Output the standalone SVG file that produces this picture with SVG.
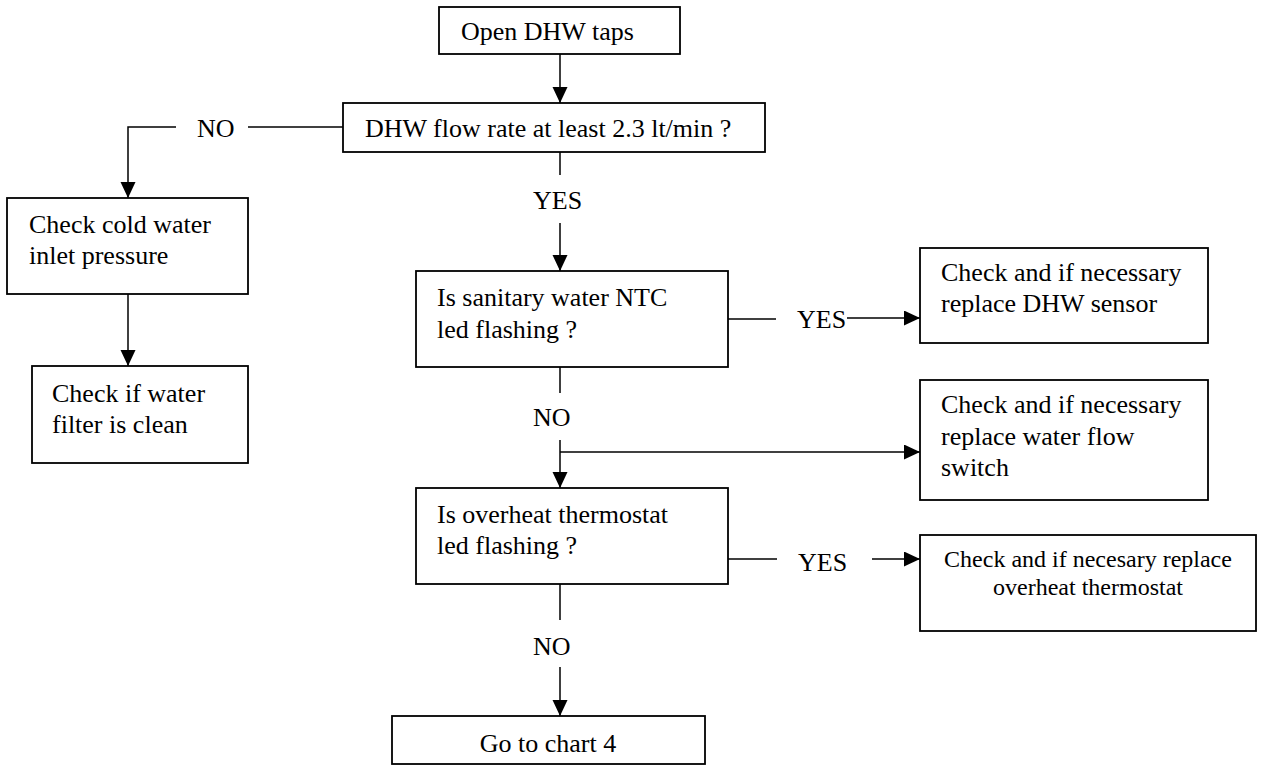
<svg xmlns="http://www.w3.org/2000/svg" width="1263" height="765" viewBox="0 0 1263 765">
  <style>
    .box { fill: #ffffff; stroke: #000000; stroke-width: 1.8; }
    .t { font-family: "Liberation Serif", "Times New Roman", serif; font-size: 26px; fill: #000000; }
    .ts { font-family: "Liberation Serif", "Times New Roman", serif; font-size: 24px; fill: #000000; }
    .ln { fill: none; stroke: #000000; stroke-width: 1.5; }
  </style>
  <defs>
    <marker id="arrow" markerUnits="userSpaceOnUse" markerWidth="16" markerHeight="16" refX="16" refY="7.5" orient="auto">
      <path d="M0,0 L16,7.5 L0,15 Z" fill="#000000"/>
    </marker>
  </defs>

  <rect width="1263" height="765" fill="#ffffff"/>

  <!-- connectors -->
  <g id="connectors">
    <line class="ln" x1="560" y1="54" x2="560" y2="103" marker-end="url(#arrow)"/>

    <line class="ln" x1="343" y1="127" x2="248" y2="127"/>
    <polyline class="ln" points="176,127 128,127 128,198" marker-end="url(#arrow)"/>
    <text class="t" x="197" y="137">NO</text>

    <line class="ln" x1="128" y1="294" x2="128" y2="366" marker-end="url(#arrow)"/>

    <line class="ln" x1="560" y1="152" x2="560" y2="175"/>
    <text class="t" x="533" y="209">YES</text>
    <line class="ln" x1="560" y1="223" x2="560" y2="271" marker-end="url(#arrow)"/>

    <line class="ln" x1="728" y1="319" x2="776" y2="319"/>
    <text class="t" x="797" y="328">YES</text>
    <line class="ln" x1="847" y1="318" x2="920" y2="318" marker-end="url(#arrow)"/>

    <line class="ln" x1="560" y1="367" x2="560" y2="393"/>
    <text class="t" x="533" y="426">NO</text>
    <line class="ln" x1="560" y1="440" x2="560" y2="488" marker-end="url(#arrow)"/>
    <line class="ln" x1="560" y1="452" x2="920" y2="452" marker-end="url(#arrow)"/>

    <line class="ln" x1="728" y1="559" x2="777" y2="559"/>
    <text class="t" x="798" y="571">YES</text>
    <line class="ln" x1="872" y1="559" x2="920" y2="559" marker-end="url(#arrow)"/>

    <line class="ln" x1="560" y1="584" x2="560" y2="620"/>
    <text class="t" x="533" y="655">NO</text>
    <line class="ln" x1="560" y1="667" x2="560" y2="716" marker-end="url(#arrow)"/>
  </g>

  <!-- nodes -->
  <g id="open-taps">
    <rect class="box" x="439" y="7" width="241" height="47"/>
    <text class="t" x="461" y="40">Open DHW taps</text>
  </g>

  <g id="flow-rate">
    <rect class="box" x="343" y="103" width="422" height="49"/>
    <text class="t" x="365" y="137">DHW flow rate at least 2.3 lt/min ?</text>
  </g>

  <g id="inlet-pressure">
    <rect class="box" x="7" y="198" width="241" height="96"/>
    <text class="t" x="29" y="233">Check cold water</text>
    <text class="t" x="29" y="264">inlet pressure</text>
  </g>

  <g id="water-filter">
    <rect class="box" x="32" y="366" width="216" height="97"/>
    <text class="t" x="52" y="402">Check if water</text>
    <text class="t" x="52" y="433">filter is clean</text>
  </g>

  <g id="ntc-led">
    <rect class="box" x="416" y="271" width="312" height="96"/>
    <text class="t" x="437" y="306">Is sanitary water NTC</text>
    <text class="t" x="437" y="338">led flashing ?</text>
  </g>

  <g id="dhw-sensor">
    <rect class="box" x="920" y="248" width="288" height="95"/>
    <text class="t" x="941" y="281">Check and if necessary</text>
    <text class="t" x="941" y="312">replace DHW sensor</text>
  </g>

  <g id="flow-switch">
    <rect class="box" x="920" y="380" width="288" height="120"/>
    <text class="t" x="941" y="413">Check and if necessary</text>
    <text class="t" x="941" y="445">replace water flow</text>
    <text class="t" x="941" y="476">switch</text>
  </g>

  <g id="overheat-led">
    <rect class="box" x="416" y="488" width="312" height="96"/>
    <text class="t" x="437" y="523">Is overheat thermostat</text>
    <text class="t" x="437" y="554">led flashing ?</text>
  </g>

  <g id="overheat-thermostat">
    <rect class="box" x="920" y="535" width="336" height="96"/>
    <text class="ts" x="1088" y="567" text-anchor="middle">Check and if necesary replace</text>
    <text class="ts" x="1088" y="595" text-anchor="middle">overheat thermostat</text>
  </g>

  <g id="chart-4">
    <rect class="box" x="392" y="716" width="313" height="48"/>
    <text class="t" x="548" y="752" text-anchor="middle">Go to chart 4</text>
  </g>
</svg>
